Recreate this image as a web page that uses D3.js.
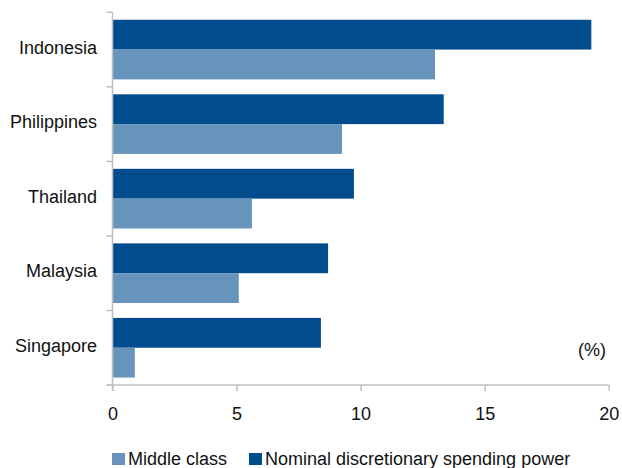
<!DOCTYPE html>
<html>
<head>
<meta charset="utf-8">
<script src="https://cdn.jsdelivr.net/npm/d3@7"></script>
<style>
  html, body { margin: 0; padding: 0; background: #fff; }
  svg { display: block; font-family: "Liberation Sans", Arial, sans-serif; }
</style>
</head>
<body>
<svg width="622" height="468"></svg>
<script>
// data
const countries = ['Indonesia', 'Philippines', 'Thailand', 'Malaysia', 'Singapore']
const middleClass = [13.0, 9.25, 5.62, 5.09, 0.9]
const spendingPower = [19.3, 13.35, 9.73, 8.69, 8.4]
const xTicks = [0, 5, 10, 15, 20]
const seriesNames = ['Middle class', 'Nominal discretionary spending power']
const colors = { light: '#6794bc', dark: '#004c8c' }

try {
  const margin = { top: 12.3, right: 13.3, bottom: 83, left: 112.5 }
  const width = 622, height = 468
  const fs = 18
  const svg = d3.select('svg')

  const x = d3.scaleLinear()
    .domain([0, 20])
    .range([margin.left, width - margin.right])

  const y = d3.scaleBand()
    .domain(countries)
    .range([margin.top, height - margin.bottom])
    .paddingInner(0.2)
    .paddingOuter(0.1)

  const rows = countries.map((c, i) => ({ c, mid: middleClass[i], nom: spendingPower[i] }))
  const half = y.bandwidth() / 2

  // dark bar on top, light below
  svg.append('g').selectAll('rect')
    .data(rows).enter().append('rect')
    .attr('x', x(0))
    .attr('y', d => y(d.c))
    .attr('width', d => x(d.nom) - x(0))
    .attr('height', half)
    .attr('fill', colors.dark)

  svg.append('g').selectAll('rect')
    .data(rows).enter().append('rect')
    .attr('x', x(0))
    .attr('y', d => y(d.c) + half)
    .attr('width', d => x(d.mid) - x(0))
    .attr('height', half)
    .attr('fill', colors.light)

  const grey = '#c0c0c0'
  const y0 = height - margin.bottom
  const step = y.step()

  // y axis line + tick marks at band edges
  svg.append('line')
    .attr('x1', x(0)).attr('x2', x(0))
    .attr('y1', margin.top).attr('y2', y0 + 6)
    .attr('stroke', grey).attr('stroke-width', 1.5)
  const edges = d3.range(countries.length + 1).map(i => margin.top + i * step)
  svg.append('g').selectAll('line')
    .data(edges).enter().append('line')
    .attr('x1', x(0) - 6).attr('x2', x(0))
    .attr('y1', d => d).attr('y2', d => d)
    .attr('stroke', grey).attr('stroke-width', 1.5)

  // x axis
  const xAxis = svg.append('g')
    .attr('transform', `translate(0,${y0})`)
    .call(d3.axisBottom(x).tickValues(xTicks).tickSize(6).tickPadding(16).tickSizeOuter(0))
  xAxis.select('.domain').attr('stroke', grey).attr('stroke-width', 1.5)
    .attr('d', `M${x(0) - 6},0H${x(20)}`)
  xAxis.selectAll('.tick line').attr('stroke', grey).attr('stroke-width', 1.5)
  xAxis.selectAll('.tick text')
    .attr('fill', '#111').attr('font-size', fs)
    .attr('font-family', '"Liberation Sans", Arial, sans-serif')

  // category labels
  svg.append('g').selectAll('text')
    .data(countries).enter().append('text')
    .attr('x', 97)
    .attr('y', d => y(d) + y.bandwidth() / 2 - 2)
    .attr('dy', '0.35em')
    .attr('text-anchor', 'end')
    .attr('font-size', fs)
    .attr('fill', '#111')
    .text(d => d)

  svg.append('text')
    .attr('x', 606).attr('y', 356)
    .attr('text-anchor', 'end')
    .attr('font-size', fs)
    .attr('fill', '#111')
    .text('(%)')

  // legend
  const legend = [
    { name: seriesNames[0], color: colors.light, x: 112 },
    { name: seriesNames[1], color: colors.dark, x: 249 }
  ]
  const lg = svg.append('g').selectAll('g')
    .data(legend).enter().append('g')
    .attr('transform', d => `translate(${d.x},453)`)
  lg.append('rect')
    .attr('width', 13).attr('height', 12)
    .attr('fill', d => d.color)
  lg.append('text')
    .attr('x', 16).attr('y', 12)
    .attr('font-size', fs)
    .attr('fill', '#111')
    .text(d => d.name)
} catch (e) {
  console.error(e)
}
</script>
</body>
</html>
